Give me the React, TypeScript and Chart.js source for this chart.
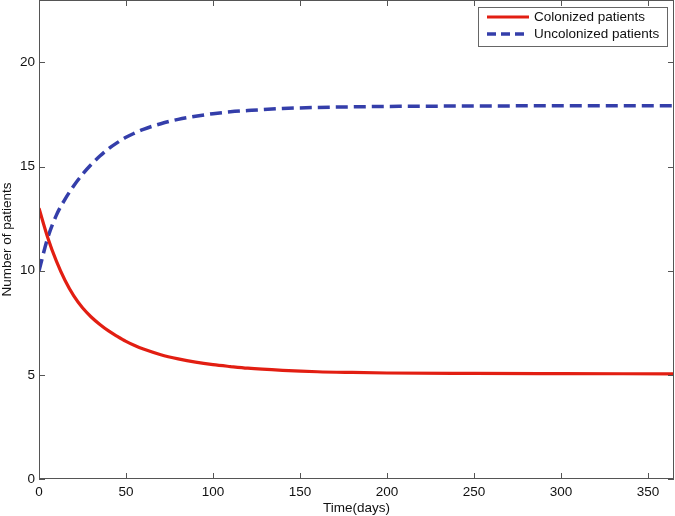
import React, { useEffect, useRef } from "react";
import { Chart, registerables } from "chart.js";

Chart.register(...registerables);

const days = [0, 5, 10, 15, 20, 25, 30, 35, 40, 45, 50, 55, 60, 70, 80, 90, 100, 110, 120, 140, 160, 180, 200, 250, 300, 365];
const colonized = [13.0, 11.6, 10.46, 9.53, 8.79, 8.22, 7.78, 7.42, 7.11, 6.85, 6.61, 6.41, 6.24, 5.97, 5.77, 5.61, 5.49, 5.4, 5.32, 5.22, 5.15, 5.115, 5.09, 5.07, 5.06, 5.05];
const uncolonized = [10.0, 11.57, 12.67, 13.44, 14.08, 14.63, 15.1, 15.51, 15.86, 16.15, 16.41, 16.61, 16.79, 17.06, 17.27, 17.42, 17.54, 17.63, 17.69, 17.79, 17.84, 17.87, 17.89, 17.91, 17.92, 17.92];
const xTicks = [0, 50, 100, 150, 200, 250, 300, 350];
const yTicks = [0, 5, 10, 15, 20];
const seriesLabels = ["Colonized patients", "Uncolonized patients"];
const xTitle = "Time(days)";
const yTitle = "Number of patients";

const RED = "rgb(226,30,18)";
const BLUE = "rgb(52,62,170)";
const AXIS = "#555";
const FONT = "'Liberation Sans', Arial, Helvetica, sans-serif";

const framePlugin = {
  id: "frame",
  afterDatasetsDraw(chart: any) {
    const { ctx, chartArea, scales } = chart;
    const { left, right, top, bottom } = chartArea;
    ctx.save();
    ctx.strokeStyle = AXIS;
    ctx.lineWidth = 1;
    ctx.setLineDash([]);
    ctx.strokeRect(left + 0.5, top + 0.5, right - left - 1, bottom - top - 1);
    const tl = 6;
    ctx.beginPath();
    for (const v of xTicks) {
      const x = Math.round(scales.x.getPixelForValue(v)) + 0.5;
      ctx.moveTo(x, bottom);
      ctx.lineTo(x, bottom - tl);
      ctx.moveTo(x, top);
      ctx.lineTo(x, top + tl);
    }
    for (const v of yTicks) {
      const y = Math.round(scales.y.getPixelForValue(v)) + 0.5;
      ctx.moveTo(left, y);
      ctx.lineTo(left + tl, y);
      ctx.moveTo(right, y);
      ctx.lineTo(right - tl, y);
    }
    ctx.stroke();

    // legend
    const bx = 478.5, by = 7.5, bw = 189, bh = 39;
    ctx.fillStyle = "#fff";
    ctx.fillRect(bx, by, bw, bh);
    ctx.strokeStyle = "#666";
    ctx.strokeRect(bx, by, bw, bh);
    const rows = [17, 34];
    chart.data.datasets.forEach((ds: any, i: number) => {
      ctx.beginPath();
      ctx.strokeStyle = ds.borderColor;
      ctx.lineWidth = ds.borderWidth;
      ctx.setLineDash(ds.borderDash ? [9, 5] : []);
      ctx.moveTo(487, rows[i]);
      ctx.lineTo(529, rows[i]);
      ctx.stroke();
      ctx.setLineDash([]);
      ctx.fillStyle = "#111";
      ctx.font = `13.5px ${FONT}`;
      ctx.textBaseline = "middle";
      ctx.textAlign = "left";
      ctx.fillText(ds.label, 534, rows[i] + 0.5);
    });
    ctx.restore();
  },
};

export default function App() {
  const ref = useRef<HTMLCanvasElement | null>(null);
  useEffect(() => {
    if (!ref.current) return;
    const chart = new Chart(ref.current, {
      type: "line",
      data: {
        datasets: [
          {
            label: seriesLabels[0],
            data: days.map((d, i) => ({ x: d, y: colonized[i] })),
            borderColor: RED,
            backgroundColor: RED,
            borderWidth: 3.2,
            pointRadius: 0,
            cubicInterpolationMode: "monotone",
            fill: false,
          },
          {
            label: seriesLabels[1],
            data: days.map((d, i) => ({ x: d, y: uncolonized[i] })),
            borderColor: BLUE,
            backgroundColor: BLUE,
            borderWidth: 3.5,
            borderDash: [12, 6],
            pointRadius: 0,
            cubicInterpolationMode: "monotone",
            fill: false,
          },
        ],
      },
      plugins: [framePlugin],
      options: {
        animation: false,
        responsive: false,
        devicePixelRatio: 1,
        layout: { padding: { left: 0, right: 1, top: 0, bottom: 0 } },
        plugins: { legend: { display: false }, tooltip: { enabled: false } },
        scales: {
          x: {
            type: "linear",
            min: 0,
            max: 365,
            grid: { display: false, drawTicks: false },
            border: { display: false },
            afterBuildTicks: (s: any) => {
              s.ticks = xTicks.map((v) => ({ value: v }));
            },
            afterFit: (s: any) => {
              s.height = 37;
              s.paddingLeft = 0;
              s.paddingRight = 0;
            },
            ticks: {
              color: "#111",
              font: { family: FONT, size: 13.5 },
              padding: 5,
              maxRotation: 0,
              autoSkip: false,
            },
            title: {
              display: true,
              text: xTitle,
              color: "#111",
              font: { family: FONT, size: 13.5, lineHeight: 1.1 },
              padding: { top: 0, bottom: 0 },
            },
          },
          y: {
            type: "linear",
            min: 0,
            max: 23,
            grid: { display: false, drawTicks: false },
            border: { display: false },
            afterBuildTicks: (s: any) => {
              s.ticks = yTicks.map((v) => ({ value: v }));
            },
            afterFit: (s: any) => {
              s.width = 39;
              s.paddingTop = 0;
              s.paddingBottom = 0;
            },
            ticks: {
              color: "#111",
              font: { family: FONT, size: 13.5 },
              padding: 4,
              autoSkip: false,
            },
            title: {
              display: true,
              text: yTitle,
              color: "#111",
              font: { family: FONT, size: 13.5, lineHeight: 1.1 },
              padding: { top: 0, bottom: 0 },
            },
          },
        },
      },
    } as any);
    return () => chart.destroy();
  }, []);
  return (
    <div style={{ position: "fixed", left: 0, top: 0, width: 675, height: 516, background: "#fff" }}>
      <canvas ref={ref} width={675} height={516} style={{ display: "block" }} />
    </div>
  );
}
